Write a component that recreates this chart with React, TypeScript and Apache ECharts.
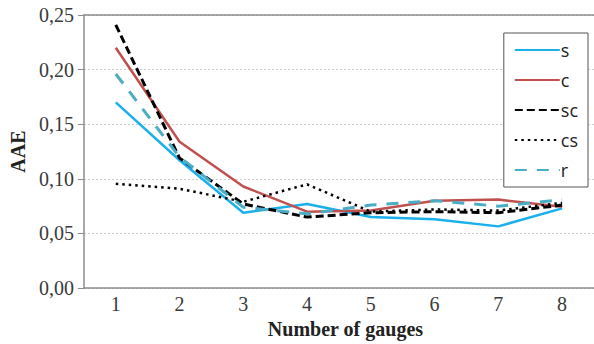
import React, { useEffect, useRef } from "react";
import * as echarts from "echarts";

const categories = ["1", "2", "3", "4", "5", "6", "7", "8"];
const sValues = [0.170, 0.117, 0.069, 0.077, 0.065, 0.063, 0.0565, 0.073];
const cValues = [0.220, 0.134, 0.093, 0.070, 0.071, 0.080, 0.081, 0.0745];
const scValues = [0.241, 0.119, 0.077, 0.065, 0.069, 0.070, 0.069, 0.076];
const csValues = [0.0955, 0.091, 0.079, 0.095, 0.070, 0.072, 0.071, 0.078];
const rValues = [0.196, 0.120, 0.074, 0.068, 0.076, 0.080, 0.075, 0.081];
const yTicks = { min: 0, max: 0.25, interval: 0.05 };

export default function App() {
  const ref = useRef<HTMLDivElement>(null);
  useEffect(() => {
    if (!ref.current) return;
    const chart = echarts.init(ref.current, null, { renderer: "svg" });
    const serif = "Liberation Serif";
    const axisGray = "#8c8c8c";
    const labelRich = { t: { fontFamily: serif, fontSize: 20, color: "#3a3a3a" } };
    chart.setOption({
      animation: false,
      backgroundColor: "#ffffff",
      textStyle: { fontFamily: serif },
      grid: { left: 81, top: 15, right: 0, bottom: 50 },
      legend: {
        orient: "vertical",
        right: 6,
        top: 33,
        itemWidth: 45,
        itemHeight: 14,
        itemGap: 12,
        padding: [8, 10, 8, 10],
        borderColor: "#555",
        borderWidth: 1,
        backgroundColor: "#fff",
        itemStyle: { opacity: 0 },
        textStyle: { fontFamily: "Open Sans", fontSize: 18, color: "#222", padding: [0, 0, 0, -4] },
        data: ["s", "c", "sc", "cs", "r"],
      },
      xAxis: [
        {
          type: "category",
          data: categories,
          boundaryGap: true,
          axisLine: { lineStyle: { color: axisGray, width: 1.5 } },
          axisTick: { alignWithLabel: true, length: 5, lineStyle: { color: axisGray } },
          axisLabel: {
            fontFamily: serif, fontSize: 20, color: "#3a3a3a", margin: 6,
            formatter: (v: string) => "{t|" + v + "}",
            rich: labelRich,
          },
          name: "Number of gauges",
          nameLocation: "middle",
          nameGap: 28,
          nameTextStyle: { fontFamily: serif, fontSize: 20, fontWeight: "bold", color: "#222", padding: [0, 0, 0, 13] },
        },
        {
          type: "category",
          data: categories,
          position: "top",
          axisLine: { lineStyle: { color: axisGray, width: 1.5 } },
          axisTick: { show: false },
          axisLabel: { show: false },
        },
      ],
      yAxis: {
        type: "value",
        min: yTicks.min,
        max: yTicks.max,
        interval: yTicks.interval,
        axisLine: { show: true, lineStyle: { color: axisGray, width: 1.5 } },
        axisTick: { show: true, length: 6, lineStyle: { color: axisGray } },
        axisLabel: {
          fontFamily: serif,
          fontSize: 20,
          color: "#3a3a3a",
          margin: 10,
          formatter: (v: number) => "{t|" + v.toFixed(2).replace(".", ",") + "}",
          rich: labelRich,
        },
        splitLine: { lineStyle: { color: "#c8c8c8", type: [2, 2], width: 1 } },
        name: "AAE",
        nameLocation: "middle",
        nameGap: 51,
        nameTextStyle: { fontFamily: serif, fontSize: 20, fontWeight: "bold", color: "#222" },
      },
      series: [
        {
          name: "s", type: "line", data: sValues, symbol: "none",
          lineStyle: { color: "#1ab0ec", width: 2.5 }, itemStyle: { color: "#1ab0ec" },
        },
        {
          name: "c", type: "line", data: cValues, symbol: "none",
          lineStyle: { color: "#c0504d", width: 2.5 }, itemStyle: { color: "#c0504d" },
        },
        {
          name: "sc", type: "line", data: scValues, symbol: "none",
          lineStyle: { color: "#000", width: 3, type: [8, 4] }, itemStyle: { color: "#000" },
        },
        {
          name: "cs", type: "line", data: csValues, symbol: "none",
          lineStyle: { color: "#000", width: 2.5, type: [2.5, 4] }, itemStyle: { color: "#000" },
        },
        {
          name: "r", type: "line", data: rValues, symbol: "none",
          lineStyle: { color: "#4bacc6", width: 3, type: [12, 10] }, itemStyle: { color: "#4bacc6" },
        },
      ],
    });
    return () => chart.dispose();
  }, []);
  return <div ref={ref} style={{ position: "fixed", left: 0, top: 0, width: 594, height: 344 }} />;
}
